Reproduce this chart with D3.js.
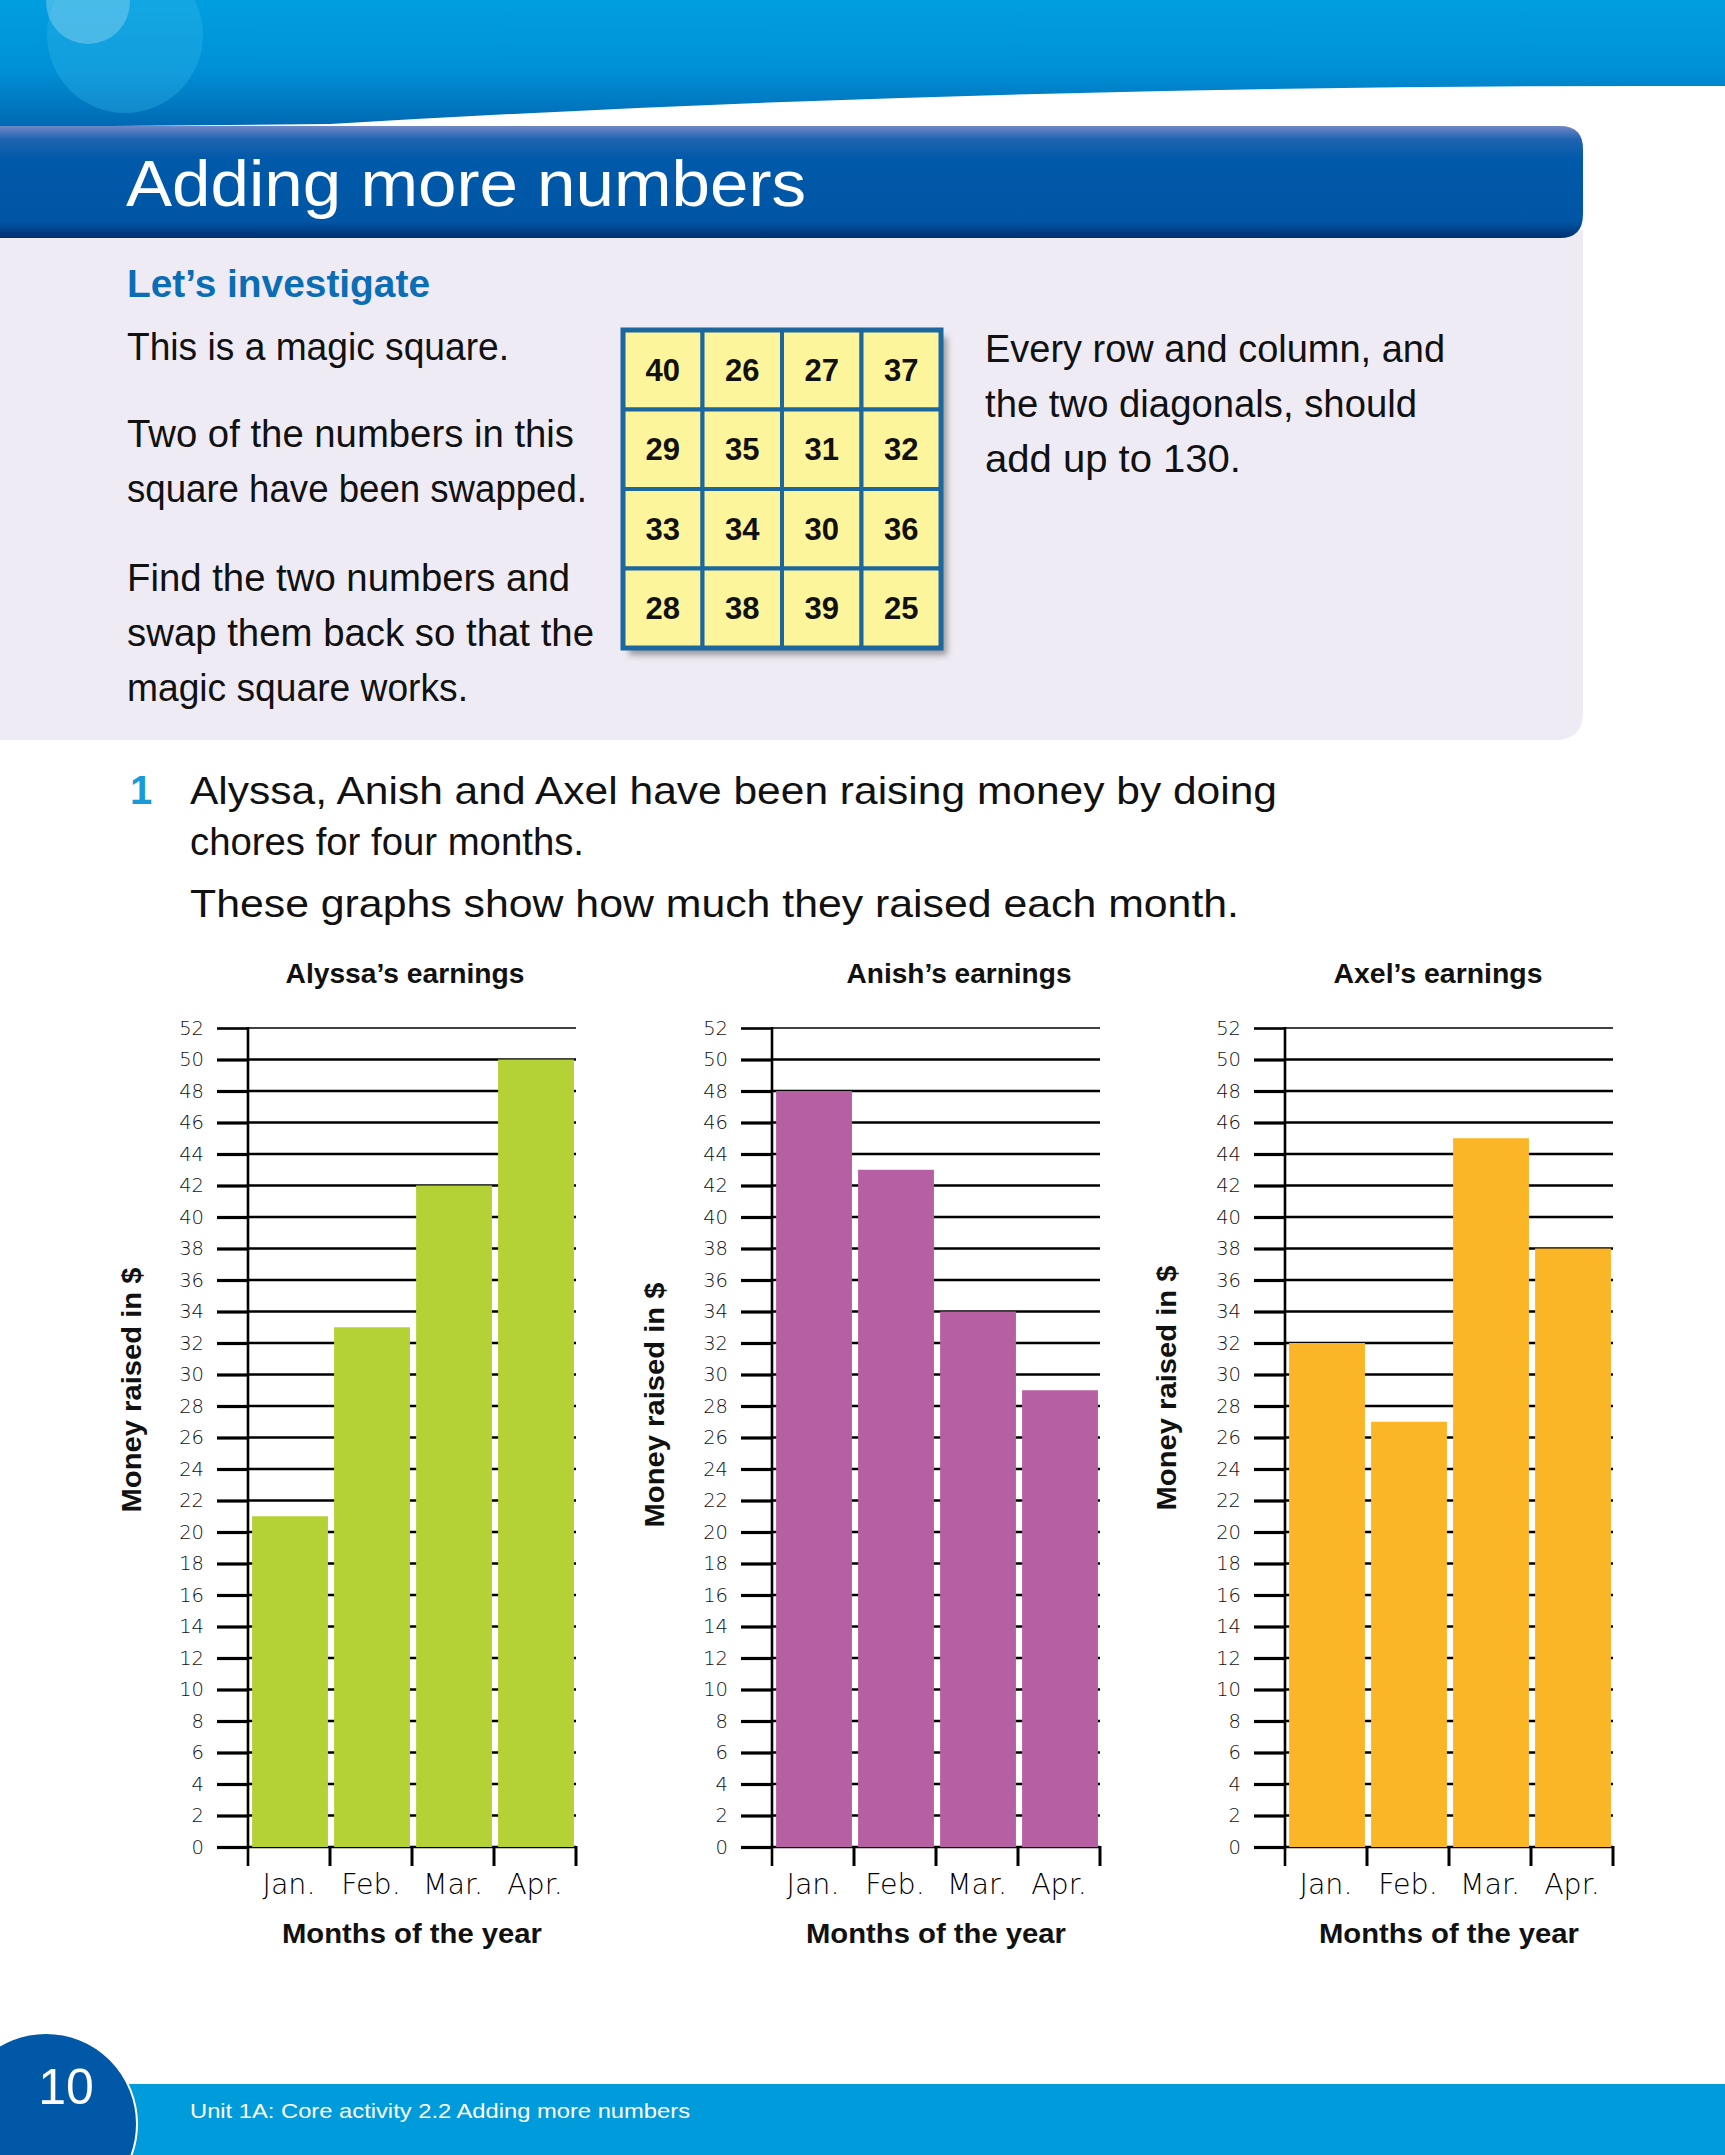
<!DOCTYPE html>
<html><head><meta charset="utf-8">
<script src="https://cdn.jsdelivr.net/npm/d3@7"></script>
<style>body{margin:0;background:#fff}svg{display:block}</style>
</head><body>
<svg id="page" width="1725" height="2155"></svg>
<script>
// ---------- data ----------
const months = ["Jan.", "Feb.", "Mar.", "Apr."];
const alyssaValues = [21, 33, 42, 50];
const anishValues = [48, 43, 34, 29];
const axelValues = [32, 27, 45, 38];
const yTickValues = [0, 2, 4, 6, 8, 10, 12, 14, 16, 18, 20, 22, 24, 26, 28, 30, 32, 34, 36, 38, 40, 42, 44, 46, 48, 50, 52];
const chartTitles = ["Alyssa’s earnings", "Anish’s earnings", "Axel’s earnings"];
const magicRow1 = [40, 26, 27, 37];
const magicRow2 = [29, 35, 31, 32];
const magicRow3 = [33, 34, 30, 36];
const magicRow4 = [28, 38, 39, 25];
const leftText = ["This is a magic square.", "Two of the numbers in this", "square have been swapped.", "Find the two numbers and", "swap them back so that the", "magic square works."];
const rightText = ["Every row and column, and", "the two diagonals, should", "add up to 130."];
const questionText = ["Alyssa, Anish and Axel have been raising money by doing", "chores for four months.", "These graphs show how much they raised each month."];

// ---------- layout / style ----------
const svg = d3.select("#page");
const defs = svg.append("defs");
const sans = "'Liberation Sans', Arial, sans-serif";
const narrow = "'Liberation Sans Narrow', 'Liberation Sans', Arial, sans-serif";
const light = "'DejaVu Sans', 'Liberation Sans', sans-serif";

const hg = defs.append("linearGradient").attr("id", "hdr").attr("x1", 0).attr("y1", 0).attr("x2", 0).attr("y2", 1);
hg.append("stop").attr("offset", "0%").attr("stop-color", "#009fe0");
hg.append("stop").attr("offset", "55%").attr("stop-color", "#0090d6");
hg.append("stop").attr("offset", "100%").attr("stop-color", "#0068b2");
const tg = defs.append("linearGradient").attr("id", "tbar").attr("x1", 0).attr("y1", 0).attr("x2", 0).attr("y2", 1);
tg.append("stop").attr("offset", "0%").attr("stop-color", "#7088c6");
tg.append("stop").attr("offset", "12%").attr("stop-color", "#1f63b0");
tg.append("stop").attr("offset", "30%").attr("stop-color", "#0059a9");
tg.append("stop").attr("offset", "85%").attr("stop-color", "#0056a5");
tg.append("stop").attr("offset", "100%").attr("stop-color", "#002f6e");
const blur = defs.append("filter").attr("id", "blur").attr("x", "-10%").attr("y", "-10%").attr("width", "130%").attr("height", "130%");
blur.append("feGaussianBlur").attr("stdDeviation", 3);

// header swoosh
svg.append("path").attr("d", "M0,0 H1725 V86 Q1000,84 330,124 L0,127 Z").attr("fill", "url(#hdr)");
svg.append("circle").attr("cx", 125).attr("cy", 35).attr("r", 78).attr("fill", "#33b6ea").attr("opacity", 0.35);
svg.append("circle").attr("cx", 88).attr("cy", 2).attr("r", 42).attr("fill", "#7fcff0").attr("opacity", 0.5);

// lavender panel
svg.append("path").attr("d", "M0,230 H1583 V712 Q1583,740 1555,740 H0 Z").attr("fill", "#eeebf4");
// title bar
svg.append("path").attr("d", "M0,126 H1560 Q1583,126 1583,149 V214 Q1583,238 1560,238 H0 Z").attr("fill", "url(#tbar)");
svg.append("text").attr("x", 126).attr("y", 206).attr("fill", "#fff").attr("font-family", sans)
  .attr("font-size", 64).attr("textLength", 680).attr("lengthAdjust", "spacingAndGlyphs").text("Adding more numbers");

svg.append("text").attr("x", 127).attr("y", 297).attr("fill", "#0b6db4").attr("font-family", narrow).attr("font-weight", "bold")
  .attr("font-size", 38).attr("textLength", 303).attr("lengthAdjust", "spacingAndGlyphs").text("Let’s investigate");

const leftBase = [360, 447, 502, 591, 646, 701];
const leftLen = [382, 447, 460, 443, 467, 341];
svg.append("g").selectAll("text").data(leftText).join("text")
  .attr("x", 127).attr("y", (d, i) => leftBase[i]).attr("font-family", narrow).attr("font-size", 38).attr("fill", "#111")
  .attr("textLength", (d, i) => leftLen[i]).attr("lengthAdjust", "spacingAndGlyphs").text(d => d);
const rightBase = [362, 417, 472];
const rightLen = [460, 432, 256];
svg.append("g").selectAll("text").data(rightText).join("text")
  .attr("x", 985).attr("y", (d, i) => rightBase[i]).attr("font-family", narrow).attr("font-size", 38).attr("fill", "#111")
  .attr("textLength", (d, i) => rightLen[i]).attr("lengthAdjust", "spacingAndGlyphs").text(d => d);

// magic square
const magicRows = [magicRow1, magicRow2, magicRow3, magicRow4];
const ms = svg.append("g");
const msX = d3.scaleBand().domain([0, 1, 2, 3]).range([623, 941]);
const msY = d3.scaleBand().domain([0, 1, 2, 3]).range([330, 648]);
ms.append("rect").attr("x", 629).attr("y", 337).attr("width", 318).attr("height", 318).attr("fill", "#555").attr("opacity", 0.55).attr("filter", "url(#blur)");
magicRows.forEach((row, r) => {
  ms.selectAll(null).data(row).join("rect")
    .attr("x", (d, c) => msX(c)).attr("y", msY(r)).attr("width", msX.bandwidth()).attr("height", msY.bandwidth())
    .attr("fill", "#fdf59c").attr("stroke", "#1b679e").attr("stroke-width", 4);
  ms.selectAll(null).data(row).join("text")
    .attr("x", (d, c) => msX(c) + msX.bandwidth() / 2).attr("y", msY(r) + msY.bandwidth() / 2 + 11)
    .attr("text-anchor", "middle").attr("font-family", sans).attr("font-weight", "bold").attr("font-size", 31).attr("fill", "#111")
    .text(d => d);
});
ms.append("rect").attr("x", 623).attr("y", 330).attr("width", 318).attr("height", 318).attr("fill", "none").attr("stroke", "#1b679e").attr("stroke-width", 5);

// question text
svg.append("text").attr("x", 130).attr("y", 804).attr("fill", "#1a9ad7").attr("font-family", sans).attr("font-weight", "bold").attr("font-size", 40).text("1");
const qBase = [804, 855, 917];
const qLen = [1087, 394, 1049];
svg.append("g").selectAll("text").data(questionText).join("text")
  .attr("x", 190).attr("y", (d, i) => qBase[i]).attr("font-family", sans).attr("font-size", 39).attr("fill", "#111")
  .attr("textLength", (d, i) => qLen[i]).attr("lengthAdjust", "spacingAndGlyphs").text(d => d);

// ---------- charts ----------
const chartCfg = [
  {left: 248, titleX: 405, titleLen: 239, labX: 132, labY: 1390, values: alyssaValues, color: "#b4d235"},
  {left: 772, titleX: 959, titleLen: 225, labX: 655, labY: 1405, values: anishValues, color: "#b75fa3"},
  {left: 1285, titleX: 1438, titleLen: 209, labX: 1167, labY: 1388, values: axelValues, color: "#fbb627"}
];
const plotW = 328, yTop = 1028, yBot = 1847;

chartCfg.forEach((cfg, ci) => {
  const g = svg.append("g");
  const x = d3.scaleBand().domain(months).range([cfg.left, cfg.left + plotW]).padding(0);
  const y = d3.scaleLinear().domain([0, 52]).range([yBot, yTop]);
  const bw = x.bandwidth();

  // gridlines
  g.append("g").selectAll("line").data(yTickValues).join("line")
    .attr("x1", cfg.left).attr("x2", cfg.left + plotW).attr("y1", d => y(d)).attr("y2", d => y(d))
    .attr("stroke", "#000").attr("stroke-width", d => d === 52 ? 1.3 : 2.3);

  // bars
  g.append("g").selectAll("rect").data(cfg.values).join("rect")
    .attr("x", (d, i) => x(months[i]) + bw * 0.05).attr("width", bw * 0.925)
    .attr("y", d => y(d)).attr("height", d => y(0) - y(d)).attr("fill", cfg.color);

  // y axis
  const yAxis = d3.axisLeft(y).tickValues(yTickValues).tickSize(31).tickSizeOuter(0).tickPadding(13);
  const ya = g.append("g").attr("transform", `translate(${cfg.left},0)`).call(yAxis);
  ya.select(".domain").remove();
  ya.selectAll(".tick line").attr("stroke", "#000").attr("stroke-width", d => d === 52 ? 2.6 : 3.2);
  ya.selectAll(".tick text").attr("font-family", light).attr("font-weight", 200).attr("font-size", 19.5).attr("fill", "#111");
  g.append("line").attr("x1", cfg.left).attr("x2", cfg.left).attr("y1", y(52) - 1).attr("y2", y(0) + 19)
    .attr("stroke", "#000").attr("stroke-width", 2.6);

  // x boundary ticks
  const bounds = months.map(m => x(m) + bw);
  g.append("g").selectAll("line").data(bounds).join("line")
    .attr("x1", d => d).attr("x2", d => d).attr("y1", y(0) - 1).attr("y2", y(0) + 19)
    .attr("stroke", "#000").attr("stroke-width", 3);

  // x labels
  const xAxis = d3.axisBottom(x).tickSize(0).tickPadding(0);
  const xa = g.append("g").attr("transform", `translate(0,${yBot})`).call(xAxis);
  xa.select(".domain").remove();
  xa.selectAll(".tick text").attr("dy", null).attr("y", 47).attr("font-family", light).attr("font-weight", 200)
    .attr("font-size", 28.5).attr("fill", "#000");

  // titles
  g.append("text").attr("x", cfg.titleX).attr("y", 983).attr("text-anchor", "middle").attr("font-family", sans)
    .attr("font-weight", "bold").attr("font-size", 27).attr("fill", "#111")
    .attr("textLength", cfg.titleLen).attr("lengthAdjust", "spacingAndGlyphs").text(chartTitles[ci]);
  g.append("text").attr("x", cfg.left + plotW / 2).attr("y", 1943).attr("text-anchor", "middle").attr("font-family", sans)
    .attr("font-weight", "bold").attr("font-size", 27).attr("fill", "#111")
    .attr("textLength", 260).attr("lengthAdjust", "spacingAndGlyphs").text("Months of the year");
  g.append("text").attr("transform", `translate(${cfg.labX + 9},${cfg.labY}) rotate(-90)`).attr("text-anchor", "middle")
    .attr("font-family", sans).attr("font-weight", "bold").attr("font-size", 27).attr("fill", "#111")
    .attr("textLength", 245).attr("lengthAdjust", "spacingAndGlyphs").text("Money raised in $");
});

// ---------- footer ----------
svg.append("rect").attr("x", 0).attr("y", 2084).attr("width", 1725).attr("height", 71).attr("fill", "#009bdb");
svg.append("circle").attr("cx", 46).attr("cy", 2124).attr("r", 91).attr("fill", "#0058a6").attr("stroke", "#fff").attr("stroke-width", 2);
svg.append("text").attr("x", 66).attr("y", 2104).attr("text-anchor", "middle").attr("font-family", sans).attr("font-size", 50)
  .attr("fill", "#fff").text("10");
svg.append("text").attr("x", 190).attr("y", 2118).attr("font-family", sans).attr("font-size", 21).attr("fill", "#fff")
  .attr("textLength", 500).attr("lengthAdjust", "spacingAndGlyphs").text("Unit 1A: Core activity 2.2 Adding more numbers");
</script>
</body></html>
